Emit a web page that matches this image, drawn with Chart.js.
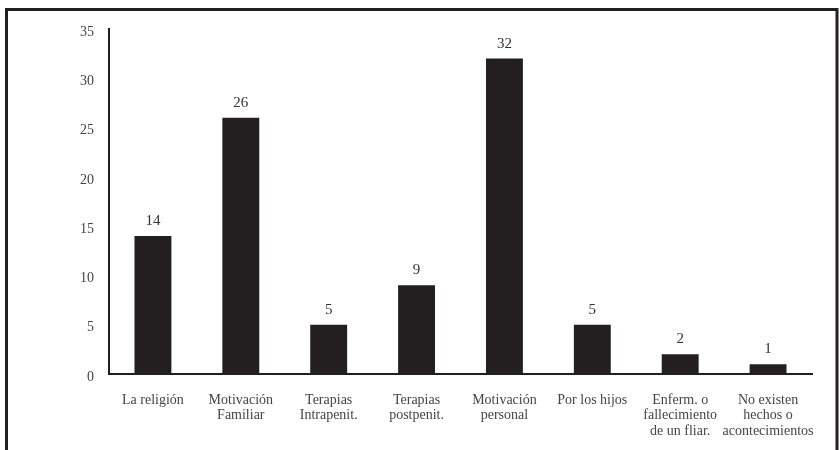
<!DOCTYPE html>
<html>
<head>
<meta charset="utf-8">
<script src="https://cdn.jsdelivr.net/npm/chart.js@4/dist/chart.umd.min.js"></script>
<style>
  html, body { margin: 0; padding: 0; background: #fff; }
  #wrap { position: relative; width: 839px; height: 450px; }
</style>
</head>
<body>
<div id="wrap"><canvas id="c" width="839" height="450"></canvas></div>
<script>
// Motivos del cambio (frecuencias)
const categories = [
  ['La religión'],
  ['Motivación', 'Familiar'],
  ['Terapias', 'Intrapenit.'],
  ['Terapias', 'postpenit.'],
  ['Motivación', 'personal'],
  ['Por los hijos'],
  ['Enferm. o', 'fallecimiento', 'de un fliar.'],
  ['No existen', 'hechos o', 'acontecimientos']
];
const counts = [14, 26, 5, 9, 32, 5, 2, 1];
const yTicks = [0, 5, 10, 15, 20, 25, 30, 35];

const serif = '"Liberation Serif", "DejaVu Serif", serif';

// Marco exterior (arriba, izquierda y derecha)
const framePlugin = {
  id: 'frame',
  beforeDraw(chart) {
    const ctx = chart.ctx;
    ctx.save();
    ctx.fillStyle = '#fff';
    ctx.fillRect(0, 0, chart.width, chart.height);
    ctx.strokeStyle = '#231f20';
    ctx.lineWidth = 3;
    ctx.beginPath();
    ctx.moveTo(6.5, chart.height);
    ctx.lineTo(6.5, 9.5);
    ctx.lineTo(837, 9.5);
    ctx.lineTo(837, chart.height);
    ctx.stroke();
    ctx.restore();
  }
};

// Valor encima de cada barra
const valueLabels = {
  id: 'valueLabels',
  afterDatasetsDraw(chart) {
    const ctx = chart.ctx;
    const meta = chart.getDatasetMeta(0);
    ctx.save();
    ctx.font = '15px ' + serif;
    ctx.fillStyle = '#333';
    ctx.textAlign = 'center';
    ctx.textBaseline = 'middle';
    meta.data.forEach((bar, i) => {
      ctx.fillText(String(counts[i]), bar.x, bar.y - 15);
    });
    ctx.restore();
  }
};

new Chart(document.getElementById('c'), {
  type: 'bar',
  data: {
    labels: categories,
    datasets: [{
      data: counts,
      backgroundColor: '#231f20',
      borderWidth: 0,
      categoryPercentage: 1,
      barPercentage: 0.42
    }]
  },
  options: {
    responsive: false,
    animation: false,
    layout: { padding: { top: 29, right: 27, left: 0, bottom: 0 } },
    plugins: { legend: { display: false }, tooltip: { enabled: false } },
    scales: {
      x: {
        grid: { display: false, drawTicks: false },
        border: { display: true, color: '#231f20', width: 2 },
        ticks: {
          color: '#444',
          font: { family: serif, size: 14, lineHeight: 1.12 },
          padding: 18,
          maxRotation: 0,
          autoSkip: false
        },
        afterFit(scale) { scale.height = 76; }
      },
      y: {
        min: 0,
        max: 35,
        afterBuildTicks(scale) { scale.ticks = yTicks.map(v => ({ value: v })); },
        grid: { display: false, drawTicks: false },
        border: { display: true, color: '#231f20', width: 2 },
        ticks: {
          color: '#444',
          font: { family: serif, size: 14 },
          padding: 15,
          labelOffset: 3
        },
        afterFit(scale) { scale.width = 109; }
      }
    }
  },
  plugins: [framePlugin, valueLabels]
});
</script>
</body>
</html>
